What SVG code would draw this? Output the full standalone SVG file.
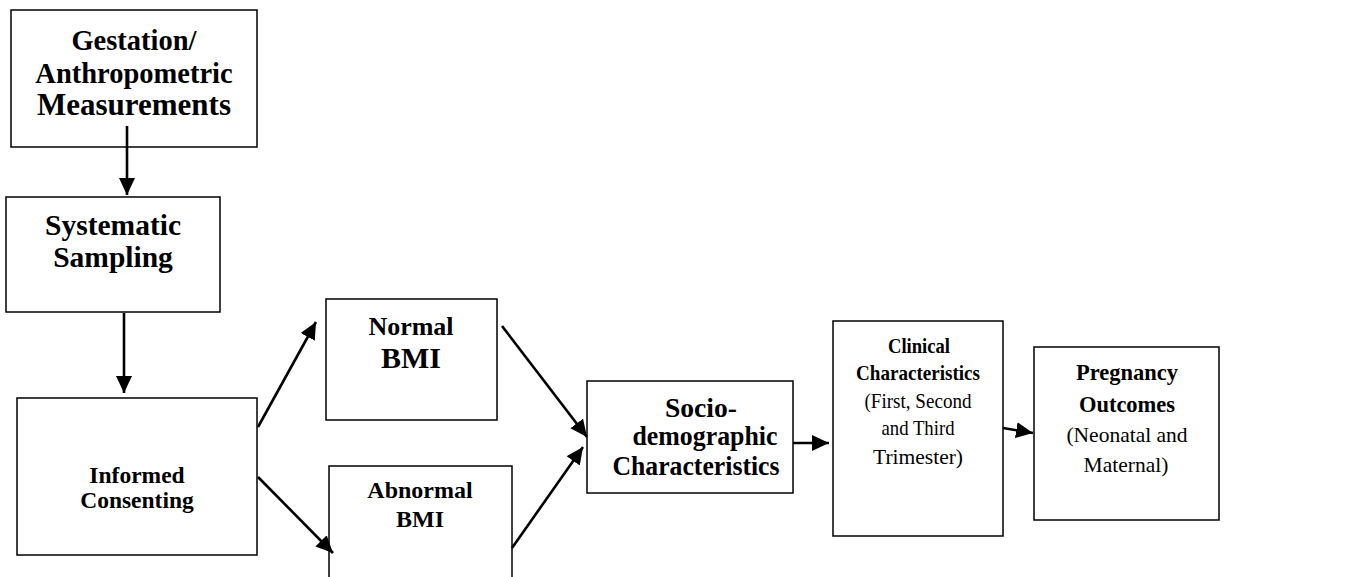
<svg xmlns="http://www.w3.org/2000/svg" width="1352" height="577" viewBox="0 0 1352 577">
<style>
.box{fill:#fff;stroke:#000;stroke-width:1.5}
.b{font-family:"Liberation Serif","Times New Roman",serif;font-weight:bold;text-anchor:middle;fill:#000}
.r{font-family:"Liberation Serif","Times New Roman",serif;text-anchor:middle;fill:#000}
.c{stroke:#000;stroke-width:2.6;fill:none;marker-end:url(#ah)}
</style>
<defs>
<marker id="ah" markerUnits="userSpaceOnUse" markerWidth="20" markerHeight="18" refX="17" refY="8" orient="auto">
<path d="M0,0 L17,8 L0,16 z" fill="#000"/>
</marker>
</defs>
<rect width="1352" height="577" fill="#fff"/>
<g id="gestation">
<rect class="box" x="11" y="10" width="246" height="137"/>
<text class="b" font-size="28.5" x="134" y="50">Gestation/</text>
<text class="b" font-size="28.5" x="134" y="83">Anthropometric</text>
<text class="b" font-size="31" x="134" y="115">Measurements</text>
</g>
<g id="systematic">
<rect class="box" x="6" y="197" width="214" height="115"/>
<text class="b" font-size="29.5" x="113" y="235">Systematic</text>
<text class="b" font-size="29.5" x="113" y="267">Sampling</text>
</g>
<g id="informed">
<rect class="box" x="17" y="398" width="240" height="157"/>
<text class="b" font-size="23.5" x="137" y="483">Informed</text>
<text class="b" font-size="23.5" x="137" y="508">Consenting</text>
</g>
<g id="normal">
<rect class="box" x="326" y="299" width="171" height="121"/>
<text class="b" font-size="26" x="411" y="335">Normal</text>
<text class="b" font-size="30" x="411" y="368">BMI</text>
</g>
<g id="abnormal">
<rect class="box" x="329" y="466" width="183" height="112"/>
<text class="b" font-size="24" x="420" y="498">Abnormal</text>
<text class="b" font-size="24" x="420" y="527">BMI</text>
</g>
<g id="socio">
<rect class="box" x="587" y="381" width="206" height="112"/>
<text class="b" font-size="28" x="701" y="417" textLength="72" lengthAdjust="spacingAndGlyphs">Socio-</text>
<text class="b" font-size="28" x="705" y="445" textLength="145" lengthAdjust="spacingAndGlyphs">demographic</text>
<text class="b" font-size="28" x="696" y="475" textLength="167" lengthAdjust="spacingAndGlyphs">Characteristics</text>
</g>
<g id="clinical">
<rect class="box" x="833" y="321" width="170" height="215"/>
<text class="b" font-size="21.5" x="919" y="353" textLength="62" lengthAdjust="spacingAndGlyphs">Clinical</text>
<text class="b" font-size="21.5" x="918" y="380" textLength="124" lengthAdjust="spacingAndGlyphs">Characteristics</text>
<text class="r" font-size="21.5" x="918" y="408" textLength="107" lengthAdjust="spacingAndGlyphs">(First, Second</text>
<text class="r" font-size="21.5" x="918" y="435" textLength="73" lengthAdjust="spacingAndGlyphs">and Third</text>
<text class="r" font-size="21.5" x="918" y="464" textLength="90" lengthAdjust="spacingAndGlyphs">Trimester)</text>
</g>
<g id="pregnancy">
<rect class="box" x="1034" y="347" width="185" height="173"/>
<text class="b" font-size="22.5" x="1127" y="380">Pregnancy</text>
<text class="b" font-size="22.5" x="1127" y="412">Outcomes</text>
<text class="r" font-size="21.5" x="1127" y="442">(Neonatal and</text>
<text class="r" font-size="21.5" x="1126" y="472">Maternal)</text>
</g>
<g id="connectors">
<line class="c" x1="127" y1="126" x2="127" y2="195"/>
<line class="c" x1="124" y1="313" x2="124" y2="393"/>
<line class="c" x1="258" y1="427" x2="316" y2="322"/>
<line class="c" x1="258" y1="477" x2="333" y2="553"/>
<line class="c" x1="502" y1="326" x2="587" y2="437"/>
<line class="c" x1="512" y1="548" x2="583" y2="447"/>
<line class="c" x1="793" y1="443" x2="829" y2="443"/>
<line class="c" x1="1003" y1="428" x2="1033" y2="433"/>
</g>
</svg>
